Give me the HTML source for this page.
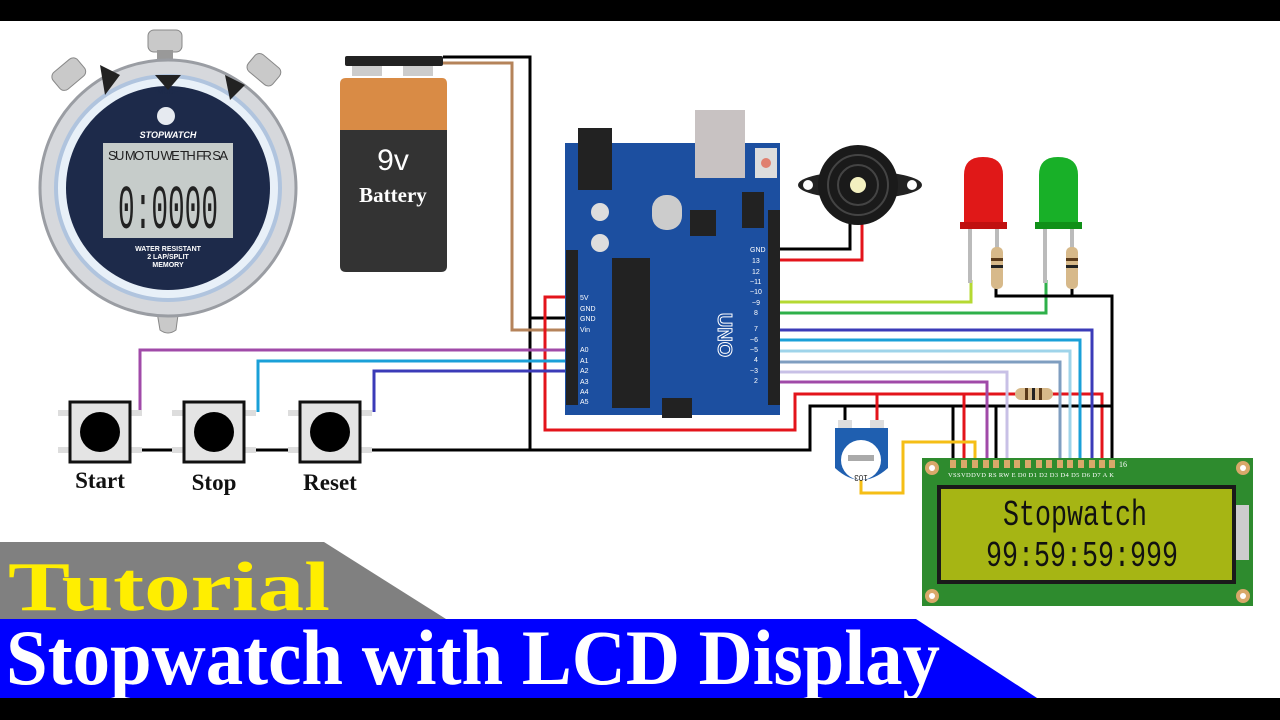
<!DOCTYPE html>
<html><head><meta charset="utf-8"><style>
html,body{margin:0;padding:0;background:#fff;}
svg{display:block;}
</style></head><body>
<svg width="1280" height="720" viewBox="0 0 1280 720" xmlns="http://www.w3.org/2000/svg">
<rect width="1280" height="720" fill="#fff"/>
<rect width="1280" height="21" fill="#000"/>

<!-- Stopwatch -->
<rect x="148" y="30" width="34" height="22" rx="6" fill="#c9c9c9" stroke="#888"/>
<rect x="157" y="50" width="16" height="14" fill="#999"/>
<g transform="rotate(-40 72 78)"><rect x="56" y="62" width="32" height="22" rx="6" fill="#c9c9c9" stroke="#888"/></g>
<g transform="rotate(40 262 72)"><rect x="246" y="58" width="32" height="22" rx="6" fill="#c9c9c9" stroke="#888"/></g>
<path d="M155 300 Q168 290 180 300 L176 330 Q168 336 160 330 Z" fill="#c9c9c9" stroke="#888"/>
<circle cx="168" cy="188" r="128" fill="#d6d8dc" stroke="#9a9da3" stroke-width="3"/>
<circle cx="168" cy="188" r="112" fill="#e8f0f8" stroke="#b0c4de" stroke-width="4"/>
<circle cx="168" cy="188" r="102" fill="#1d2a4a"/>
<path d="M100 65 L120 75 L105 95 Z" fill="#222"/>
<path d="M155 75 L181 75 L168 90 Z" fill="#222"/>
<path d="M225 75 L245 85 L230 100 Z" fill="#222"/>
<circle cx="166" cy="116" r="9" fill="#e6eaf0"/>
<text x="168" y="138" font-family="Liberation Sans" font-size="9" font-weight="bold" font-style="italic" fill="#fff" text-anchor="middle">STOPWATCH</text>
<rect x="103" y="143" width="130" height="95" fill="#c6ccca"/>
<text x="168" y="160" font-family="Liberation Sans" font-size="13" fill="#222" text-anchor="middle" textLength="120">SU MO TU WE TH FR SA</text>
<text x="168" y="228" font-family="Liberation Mono" font-size="62" fill="#222" text-anchor="middle" textLength="100" lengthAdjust="spacingAndGlyphs">0:0000</text>
<text x="168" y="251" font-family="Liberation Sans" font-size="7" font-weight="bold" fill="#fff" text-anchor="middle">WATER RESISTANT</text>
<text x="168" y="259" font-family="Liberation Sans" font-size="7" font-weight="bold" fill="#fff" text-anchor="middle">2 LAP/SPLIT</text>
<text x="168" y="267" font-family="Liberation Sans" font-size="7" font-weight="bold" fill="#fff" text-anchor="middle">MEMORY</text>
<text x="168" y="94" font-family="Liberation Sans" font-size="7" fill="#1d2a4a" text-anchor="middle">•MODE•</text>

<!-- Battery -->
<rect x="345" y="56" width="98" height="10" rx="2" fill="#222"/>
<rect x="352" y="66" width="30" height="10" fill="#ccc"/>
<rect x="403" y="66" width="30" height="10" fill="#ccc"/>
<path d="M340 84 Q340 78 346 78 L442 78 Q447 78 447 84 L447 130 L340 130 Z" fill="#d98b45"/>
<path d="M340 130 L447 130 L447 266 Q447 272 441 272 L346 272 Q340 272 340 266 Z" fill="#333"/>
<text x="393" y="170" font-family="Liberation Sans" font-size="30" fill="#fff" text-anchor="middle">9v</text>
<text x="393" y="202" font-family="Liberation Serif" font-size="21" font-weight="bold" fill="#fff" text-anchor="middle">Battery</text>

<!-- wires -->
<g fill="none" stroke-width="3">
<polyline points="443,57 530,57 530,450" stroke="#000"/>
<polyline points="530,318 568,318" stroke="#000"/>
<polyline points="443,63 512,63 512,330 568,330" stroke="#b5835a"/>
<polyline points="568,297 545,297 545,430 795,430 795,394 1102,394 1102,460" stroke="#e3141b"/>
<polyline points="140,412 140,350 568,350" stroke="#a04aa8"/>
<polyline points="258,412 258,361 568,361" stroke="#1aa0d8"/>
<polyline points="374,412 374,371 568,371" stroke="#3b3bb8"/>
<polyline points="132,450 175,450" stroke="#000"/>
<polyline points="246,450 290,450" stroke="#000"/>
<polyline points="362,450 810,450 810,406 1112,406" stroke="#000"/>
<polyline points="776,249 850,249 850,222" stroke="#000"/>
<polyline points="776,260 862,260 862,222" stroke="#e3141b"/>
<polyline points="776,302 971,302 971,280" stroke="#b5d932"/>
<polyline points="776,313 1046,313 1046,280" stroke="#2eb04a"/>
<polyline points="996,288 996,296 1112,296 1112,460" stroke="#000"/>
<polyline points="1072,288 1072,296" stroke="#000"/>
<polyline points="776,330 1092,330 1092,460" stroke="#3b3bb8"/>
<polyline points="776,340 1080,340 1080,460" stroke="#1aa0d8"/>
<polyline points="776,351 1070,351 1070,460" stroke="#9fd4ea"/>
<polyline points="776,362 1060,362 1060,460" stroke="#7f9ec0"/>
<polyline points="776,372 1007,372 1007,460" stroke="#c8c0e6"/>
<polyline points="776,382 987,382 987,460" stroke="#a04aa8"/>
<polyline points="964,394 964,460" stroke="#e3141b"/>
<polyline points="877,394 877,422" stroke="#e3141b"/>
<polyline points="953,406 953,460" stroke="#000"/>
<polyline points="996,406 996,460" stroke="#000"/>
<polyline points="845,406 845,422" stroke="#000"/>
<polyline points="861,480 861,493 903,493 903,442 975,442 975,460" stroke="#f5be16"/>
</g>
<rect x="1015" y="388" width="38" height="12" rx="6" fill="#d7b98a"/>
<rect x="1025" y="388" width="3" height="12" fill="#5a3a1a"/><rect x="1032" y="388" width="3" height="12" fill="#222"/><rect x="1039" y="388" width="3" height="12" fill="#5a3a1a"/>

<!-- Buttons -->
<g>
<rect x="58" y="410" width="84" height="6" fill="#ddd"/><rect x="58" y="447" width="84" height="6" fill="#ddd"/>
<rect x="70" y="402" width="60" height="60" fill="#e4e4e4" stroke="#111" stroke-width="3"/>
<circle cx="100" cy="432" r="20" fill="#000"/>
<rect x="172" y="410" width="84" height="6" fill="#ddd"/><rect x="172" y="447" width="84" height="6" fill="#ddd"/>
<rect x="184" y="402" width="60" height="60" fill="#e4e4e4" stroke="#111" stroke-width="3"/>
<circle cx="214" cy="432" r="20" fill="#000"/>
<rect x="288" y="410" width="84" height="6" fill="#ddd"/><rect x="288" y="447" width="84" height="6" fill="#ddd"/>
<rect x="300" y="402" width="60" height="60" fill="#e4e4e4" stroke="#111" stroke-width="3"/>
<circle cx="330" cy="432" r="20" fill="#000"/>
</g>
<text x="100" y="488" font-family="Liberation Serif" font-size="23" font-weight="bold" fill="#111" text-anchor="middle">Start</text>
<text x="214" y="490" font-family="Liberation Serif" font-size="23" font-weight="bold" fill="#111" text-anchor="middle">Stop</text>
<text x="330" y="490" font-family="Liberation Serif" font-size="23" font-weight="bold" fill="#111" text-anchor="middle">Reset</text>

<!-- Arduino -->
<path d="M565 143 L780 143 L780 415 L565 415 Z" fill="#1c4fa0"/>
<rect x="578" y="128" width="34" height="62" fill="#222"/>
<rect x="695" y="110" width="50" height="68" fill="#c8c2c2"/>
<rect x="755" y="148" width="22" height="30" fill="#ddd"/><circle cx="766" cy="163" r="5" fill="#e08070"/>
<rect x="612" y="258" width="38" height="150" fill="#222"/>
<rect x="652" y="195" width="30" height="35" rx="14" fill="#ccc"/>
<circle cx="600" cy="212" r="9" fill="#ddd"/><circle cx="600" cy="243" r="9" fill="#ddd"/>
<rect x="690" y="210" width="26" height="26" fill="#222"/>
<rect x="566" y="250" width="12" height="155" fill="#222"/>
<rect x="768" y="210" width="12" height="195" fill="#222"/>
<rect x="742" y="192" width="22" height="36" fill="#222"/>
<rect x="662" y="398" width="30" height="20" fill="#222"/>
<text x="718" y="335" font-family="Liberation Sans" font-size="20" font-weight="bold" fill="#1c4fa0" stroke="#fff" stroke-width="1" transform="rotate(90 718 335)" text-anchor="middle">UNO</text>
<g font-family="Liberation Sans" font-size="7" fill="#fff">
<text x="580" y="300">5V</text><text x="580" y="311">GND</text><text x="580" y="321">GND</text><text x="580" y="332">Vin</text>
<text x="580" y="352">A0</text><text x="580" y="363">A1</text><text x="580" y="373">A2</text><text x="580" y="384">A3</text><text x="580" y="394">A4</text><text x="580" y="404">A5</text>
<text x="750" y="252">GND</text><text x="752" y="263">13</text><text x="752" y="274">12</text><text x="750" y="284">~11</text><text x="750" y="294">~10</text><text x="752" y="305">~9</text><text x="754" y="315">8</text><text x="754" y="331">7</text><text x="750" y="342">~6</text><text x="750" y="352">~5</text><text x="754" y="362">4</text><text x="750" y="373">~3</text><text x="754" y="383">2</text>
</g>

<!-- Buzzer -->
<ellipse cx="860" cy="185" rx="62" ry="14" fill="#222"/>
<circle cx="808" cy="185" r="5" fill="#fff"/><circle cx="912" cy="185" r="5" fill="#fff"/>
<circle cx="858" cy="185" r="40" fill="#1a1a1a"/>
<circle cx="858" cy="185" r="30" fill="none" stroke="#444" stroke-width="2"/>
<circle cx="858" cy="185" r="20" fill="none" stroke="#444" stroke-width="2"/>
<circle cx="858" cy="185" r="8" fill="#f3f0c0"/>

<!-- LEDs -->
<rect x="968" y="228" width="4" height="55" fill="#bbb"/><rect x="995" y="228" width="4" height="20" fill="#bbb"/>
<path d="M964 228 L964 175 Q964 157 983 157 Q1003 157 1003 175 L1003 228 Z" fill="#e01818"/>
<rect x="960" y="222" width="47" height="7" fill="#c01010"/>
<rect x="991" y="247" width="12" height="42" rx="5" fill="#d7b98a"/>
<rect x="991" y="258" width="12" height="3" fill="#5a3a1a"/><rect x="991" y="265" width="12" height="3" fill="#222"/>
<rect x="1043" y="228" width="4" height="55" fill="#bbb"/><rect x="1070" y="228" width="4" height="20" fill="#bbb"/>
<path d="M1039 228 L1039 175 Q1039 157 1058 157 Q1078 157 1078 175 L1078 228 Z" fill="#18b028"/>
<rect x="1035" y="222" width="47" height="7" fill="#109018"/>
<rect x="1066" y="247" width="12" height="42" rx="5" fill="#d7b98a"/>
<rect x="1066" y="258" width="12" height="3" fill="#5a3a1a"/><rect x="1066" y="265" width="12" height="3" fill="#222"/>

<!-- Pot -->
<rect x="838" y="420" width="14" height="8" fill="#ddd"/><rect x="870" y="420" width="14" height="8" fill="#ddd"/>
<path d="M835 428 L888 428 L888 468 Q861 492 835 468 Z" fill="#1f5fb0"/>
<circle cx="861" cy="460" r="20" fill="#fff"/>
<rect x="848" y="455" width="26" height="6" fill="#aaa"/>
<text x="861" y="481" font-family="Liberation Sans" font-size="8" fill="#222" text-anchor="middle" transform="rotate(180 861 478)">103</text>

<!-- LCD -->
<rect x="922" y="458" width="331" height="148" fill="#2e8b2e"/>
<circle cx="932" cy="468" r="7" fill="#d9a86a"/><circle cx="1243" cy="468" r="7" fill="#d9a86a"/>
<circle cx="932" cy="596" r="7" fill="#d9a86a"/><circle cx="1243" cy="596" r="7" fill="#d9a86a"/>
<circle cx="932" cy="468" r="3" fill="#fff"/><circle cx="1243" cy="468" r="3" fill="#fff"/>
<circle cx="932" cy="596" r="3" fill="#fff"/><circle cx="1243" cy="596" r="3" fill="#fff"/>
<g fill="#d9a86a">
<rect x="950" y="460" width="6" height="8"/><rect x="961" y="460" width="6" height="8"/><rect x="972" y="460" width="6" height="8"/><rect x="983" y="460" width="6" height="8"/><rect x="993" y="460" width="6" height="8"/><rect x="1004" y="460" width="6" height="8"/><rect x="1014" y="460" width="6" height="8"/><rect x="1025" y="460" width="6" height="8"/><rect x="1036" y="460" width="6" height="8"/><rect x="1046" y="460" width="6" height="8"/><rect x="1057" y="460" width="6" height="8"/><rect x="1067" y="460" width="6" height="8"/><rect x="1078" y="460" width="6" height="8"/><rect x="1089" y="460" width="6" height="8"/><rect x="1099" y="460" width="6" height="8"/><rect x="1109" y="460" width="6" height="8"/>
</g>
<text x="948" y="477" font-family="Liberation Serif" font-size="6.5" fill="#fff" textLength="166">VSSVDDVD RS RW E D0 D1 D2 D3 D4 D5 D6 D7 A K</text>
<text x="1119" y="467" font-family="Liberation Serif" font-size="8" fill="#fff">16</text>
<rect x="1233" y="505" width="16" height="55" fill="#ccc"/>
<rect x="937" y="485" width="299" height="99" fill="#1a1a1a"/>
<rect x="941" y="489" width="291" height="91" fill="#a6b514"/>
<text x="1075" y="525" font-family="Liberation Mono" font-size="36" fill="#111" text-anchor="middle" textLength="144" lengthAdjust="spacingAndGlyphs">Stopwatch</text>
<text x="1082" y="566" font-family="Liberation Mono" font-size="36" fill="#111" text-anchor="middle" textLength="192" lengthAdjust="spacingAndGlyphs">99:59:59:999</text>

<!-- Banners -->
<polygon points="0,542 324,542 446,619 0,619" fill="#808080"/>
<polygon points="0,619 916,619 1037,698 0,698" fill="#0000ff"/>
<text x="8" y="610" font-family="Liberation Serif" font-size="70" font-weight="bold" fill="#ffee00" textLength="322" lengthAdjust="spacingAndGlyphs">Tutorial</text>
<text x="6" y="684" font-family="Liberation Serif" font-size="78" font-weight="bold" fill="#fff" textLength="934" lengthAdjust="spacingAndGlyphs">Stopwatch with LCD Display</text>
<rect y="698" width="1280" height="22" fill="#000"/>
</svg>
</body></html>
